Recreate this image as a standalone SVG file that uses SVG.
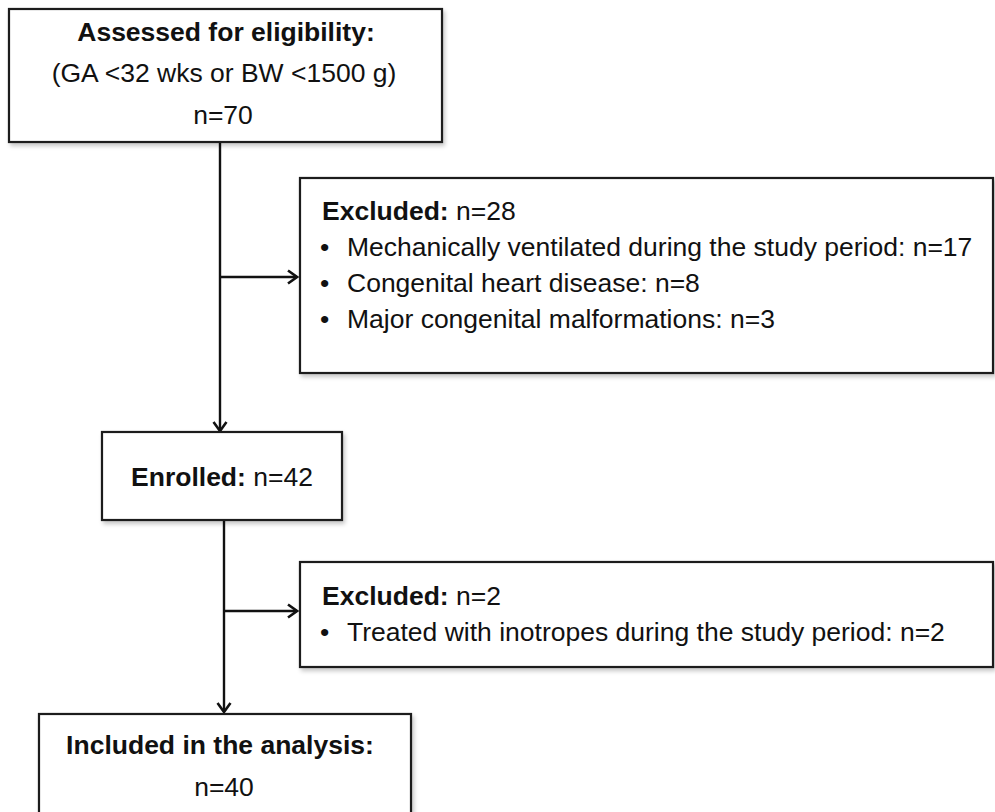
<svg xmlns="http://www.w3.org/2000/svg" width="995" height="812" viewBox="0 0 995 812">
<defs>
<filter id="sh" x="-5%" y="-5%" width="115%" height="120%">
<feDropShadow dx="2" dy="3" stdDeviation="2" flood-color="#000" flood-opacity="0.22"/>
</filter>
<marker id="arr" markerWidth="14" markerHeight="16" refX="12" refY="8" orient="auto" markerUnits="userSpaceOnUse">
<path d="M3,1.5 L12,8 L3,14.5" fill="none" stroke="#111" stroke-width="2.6"/>
</marker>
</defs>
<style>
.box{fill:#fff;stroke:#1a1a1a;stroke-width:2.2;filter:url(#sh)}
text{font-family:"Liberation Sans",Arial,Helvetica,sans-serif;font-size:26.5px;fill:#111}
.c{text-anchor:middle}
.b{font-weight:bold}
.ln{stroke:#111;stroke-width:2.4;fill:none}
</style>
<rect width="995" height="812" fill="#fff"/>
<g id="connectors">
<line class="ln" x1="220" y1="143" x2="220" y2="431" marker-end="url(#arr)"/>
<line class="ln" x1="220" y1="277" x2="297" y2="277" marker-end="url(#arr)"/>
<line class="ln" x1="224" y1="521" x2="224" y2="712" marker-end="url(#arr)"/>
<line class="ln" x1="224" y1="611" x2="297" y2="611" marker-end="url(#arr)"/>
</g>
<g id="assessed">
<rect class="box" x="9" y="9" width="433" height="133"/>
<text class="c b" x="226" y="41">Assessed for eligibility:</text>
<text class="c" x="224" y="82">(GA &lt;32 wks or BW &lt;1500 g)</text>
<text class="c" x="223" y="124">n=70</text>
</g>
<g id="excluded1">
<rect class="box" x="300" y="178" width="693" height="195"/>
<text x="322" y="220"><tspan class="b">Excluded:</tspan> n=28</text>
<text x="320" y="256">•</text><text x="347" y="256">Mechanically ventilated during the study period: n=17</text>
<text x="320" y="292">•</text><text x="347" y="292">Congenital heart disease: n=8</text>
<text x="320" y="328">•</text><text x="347" y="328">Major congenital malformations: n=3</text>
</g>
<g id="enrolled">
<rect class="box" x="102" y="432" width="240" height="88"/>
<text class="c" x="222" y="486"><tspan class="b">Enrolled:</tspan> n=42</text>
</g>
<g id="excluded2">
<rect class="box" x="300" y="562" width="693" height="105"/>
<text x="322" y="605"><tspan class="b">Excluded:</tspan> n=2</text>
<text x="320" y="641">•</text><text x="347" y="641">Treated with inotropes during the study period: n=2</text>
</g>
<g id="included">
<rect class="box" x="39" y="714" width="372" height="110"/>
<text class="c b" x="220" y="754">Included in the analysis:</text>
<text class="c" x="224" y="796">n=40</text>
</g>
</svg>
